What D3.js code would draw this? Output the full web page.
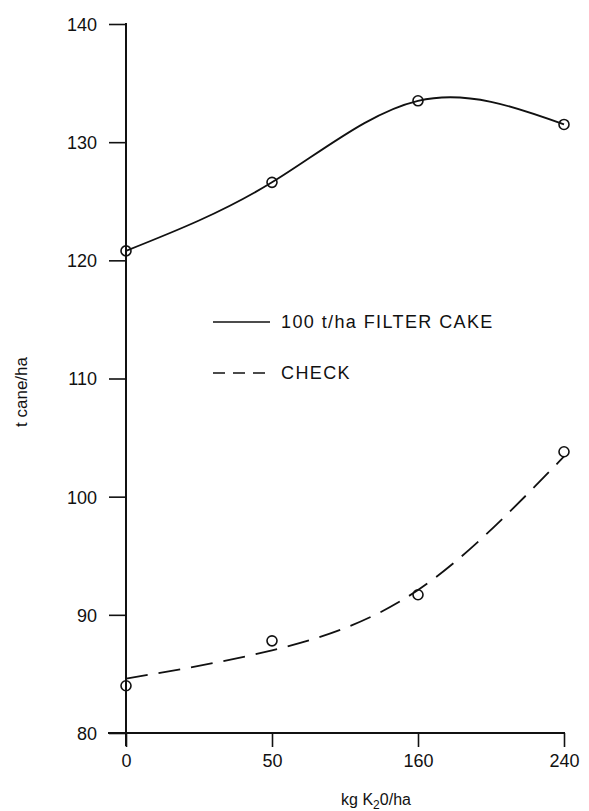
<!DOCTYPE html>
<meta charset="utf-8">
<script src="https://d3js.org/d3.v7.min.js"></script>
<style>
  body { margin: 0; background: #fff; }
  text { font-family: "Liberation Sans", Arial, sans-serif; fill: #111; }
</style>
<svg id="chart" width="589" height="811"></svg>
<script>

// data
var doses = ["0", "50", "160", "240"];
var filterCake = [120.8, 126.6, 133.5, 131.5];
var check = [84.0, 87.8, 91.7, 103.8];
var checkFit = [84.6, 87.0, 92.1, 103.4];   // fitted dashed curve at each dose
var yTicks = [80, 90, 100, 110, 120, 130, 140];

var svg = d3.select("#chart");

var x = d3.scalePoint().domain(doses).range([126, 564]);
var y = d3.scaleLinear().domain([80, 140]).range([733, 24]);

// y axis
var yAxis = svg.append("g")
  .attr("transform", "translate(126,0)")
  .call(d3.axisLeft(y).tickValues(yTicks).tickSize(17).tickSizeOuter(0).tickPadding(12));
yAxis.select(".domain").remove();
yAxis.selectAll(".tick line").attr("stroke", "#111").attr("stroke-width", 1.6);
yAxis.selectAll(".tick text").attr("font-size", 18).attr("dy", "0.36em");
yAxis.append("line")
  .attr("x1", 0).attr("x2", 0)
  .attr("y1", y(140) - 1).attr("y2", 746)
  .attr("stroke", "#111").attr("stroke-width", 2);

// x axis
var xAxis = svg.append("g")
  .attr("transform", "translate(0,733)")
  .call(d3.axisBottom(x).tickSize(14).tickSizeOuter(0).tickPadding(7));
xAxis.select(".domain").remove();
xAxis.selectAll(".tick line").attr("stroke", "#111").attr("stroke-width", 1.6);
xAxis.selectAll(".tick text").attr("font-size", 18);
xAxis.append("line")
  .attr("x1", 108).attr("x2", x("240") + 1)
  .attr("y1", 0).attr("y2", 0)
  .attr("stroke", "#111").attr("stroke-width", 1.8);

// axis titles
var xt = svg.append("text")
  .attr("x", 376).attr("y", 805)
  .attr("text-anchor", "middle")
  .attr("font-size", 16);
xt.append("tspan").text("kg K");
xt.append("tspan").attr("font-size", 12).attr("dy", 4).text("2");
xt.append("tspan").attr("dy", -4).text("0/ha");

svg.append("text")
  .attr("transform", "translate(27,392) rotate(-90)")
  .attr("text-anchor", "middle")
  .attr("font-size", 17)
  .text("t cane/ha");

// curves
var line = d3.line()
  .x(function (d, i) { return x(doses[i]); })
  .y(function (d) { return y(d); })
  .curve(d3.curveNatural);

svg.append("path")
  .datum(filterCake)
  .attr("d", line)
  .attr("fill", "none")
  .attr("stroke", "#111")
  .attr("stroke-width", 1.8);

svg.append("path")
  .datum(checkFit)
  .attr("d", line)
  .attr("fill", "none")
  .attr("stroke", "#111")
  .attr("stroke-width", 1.8)
  .attr("stroke-dasharray", "22,11");

// points
[filterCake, check].forEach(function (series) {
  svg.append("g")
    .selectAll("circle")
    .data(series)
    .enter()
    .append("circle")
      .attr("cx", function (d, i) { return x(doses[i]); })
      .attr("cy", function (d) { return y(d); })
      .attr("r", 5)
      .attr("fill", "none")
      .attr("stroke", "#111")
      .attr("stroke-width", 1.6);
});

// legend
var legend = [
  { label: "100 t/ha FILTER CAKE", dash: null, y: 322 },
  { label: "CHECK", dash: "12,8", y: 373 }
];
legend.forEach(function (d) {
  svg.append("line")
    .attr("x1", 213).attr("x2", 270)
    .attr("y1", d.y).attr("y2", d.y)
    .attr("stroke", "#111")
    .attr("stroke-width", 1.6)
    .attr("stroke-dasharray", d.dash);
  svg.append("text")
    .attr("x", 281).attr("y", d.y)
    .attr("dy", "0.36em")
    .attr("font-size", 18)
    .attr("letter-spacing", 1.4)
    .text(d.label);
});

</script>
